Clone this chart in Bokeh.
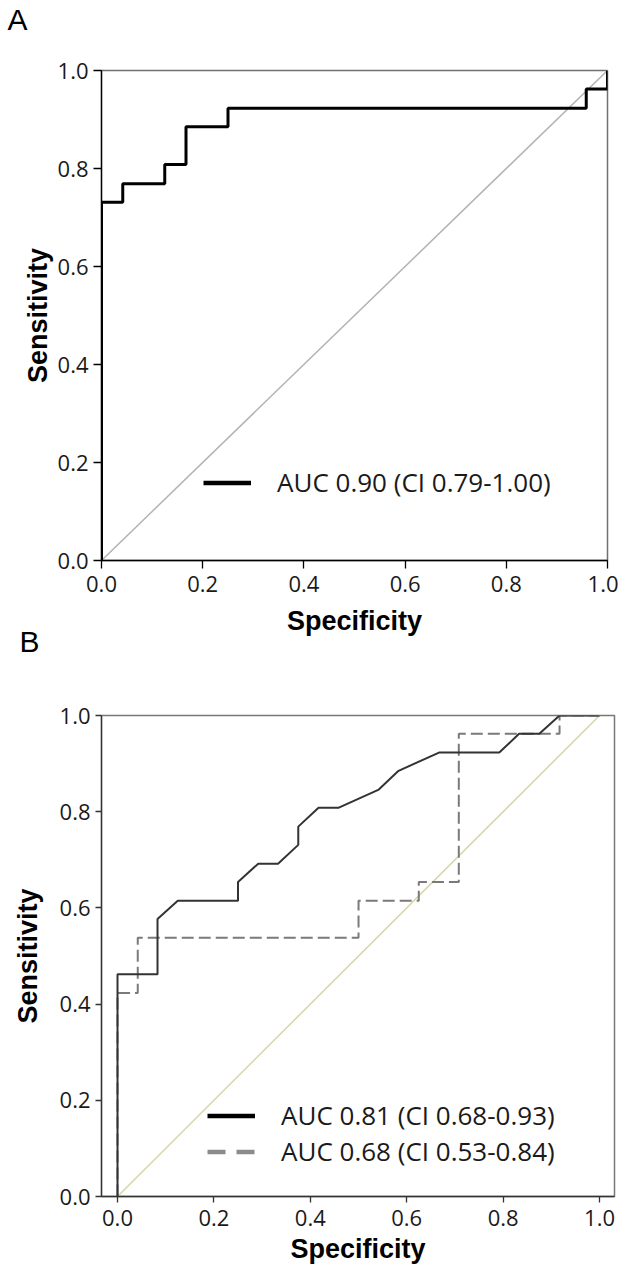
import math
from bokeh.plotting import figure
from bokeh.layouts import column
from bokeh.models import Range1d, FixedTicker, NumeralTickFormatter, Legend, LegendItem, Title
from bokeh.embed import file_html
from bokeh.resources import INLINE

# ---------------- data ----------------
ticks = [0.0, 0.2, 0.4, 0.6, 0.8, 1.0]
diag_x = [0.0, 1.0]
diag_y = [0.0, 1.0]

# Panel A ROC curve
a_spec = [0.0, 0.0, 0.042, 0.042, 0.125, 0.125, 0.167, 0.167, 0.25, 0.25, 0.958, 0.958, 1.0, 1.0]
a_sens = [0.0, 0.731, 0.731, 0.769, 0.769, 0.808, 0.808, 0.885, 0.885, 0.923, 0.923, 0.962, 0.962, 1.0]
a_label = "AUC 0.90 (CI 0.79-1.00)"

# Panel B ROC curves
b1_spec = [0.0, 0.0, 0.083, 0.083, 0.125, 0.25, 0.25, 0.292, 0.333, 0.375, 0.375, 0.417,
           0.458, 0.542, 0.583, 0.667, 0.792, 0.833, 0.875, 0.917, 1.0]
b1_sens = [0.0, 0.462, 0.462, 0.577, 0.615, 0.615, 0.654, 0.692, 0.692, 0.731, 0.769, 0.808,
           0.808, 0.846, 0.885, 0.923, 0.923, 0.962, 0.962, 1.0, 1.0]
b1_label = "AUC 0.81 (CI 0.68-0.93)"

b2_spec = [0.0, 0.0, 0.042, 0.042, 0.5, 0.5, 0.625, 0.625, 0.708, 0.708, 0.917, 0.917, 1.0]
b2_sens = [0.0, 0.423, 0.423, 0.538, 0.538, 0.615, 0.615, 0.654, 0.654, 0.962, 0.962, 1.0, 1.0]
b2_label = "AUC 0.68 (CI 0.53-0.84)"

NAN = [math.nan, math.nan]   # legend-only proxies (draw nothing in the frame)

TICK_FONT = "Open Sans"
LABEL_FONT = "Liberation Sans"


def style_axes(p, tick_out, xl_standoff, yl_standoff, axis_color):
    for ax in (p.xaxis[0], p.yaxis[0]):
        ax.ticker = FixedTicker(ticks=ticks)
        ax.formatter = NumeralTickFormatter(format="0.0")
        ax.major_tick_in = 0
        ax.major_tick_out = tick_out
        ax.minor_tick_line_color = None
        ax.axis_line_color = axis_color
        ax.axis_line_width = 1.3
        ax.major_tick_line_color = axis_color
        ax.major_tick_line_width = 1.3
        ax.major_label_text_font = TICK_FONT
        ax.major_label_text_font_size = "22px"
        ax.major_label_text_color = "#1a1a1a"
        ax.axis_label_text_font = LABEL_FONT
        ax.axis_label_text_font_style = "bold"
        ax.axis_label_text_font_size = "27px"
        ax.axis_label_text_color = "#000000"
    p.xaxis[0].major_label_standoff = 7
    p.yaxis[0].major_label_standoff = 5
    p.xaxis[0].axis_label = "Specificity"
    p.yaxis[0].axis_label = "Sensitivity"
    p.xaxis[0].axis_label_standoff = xl_standoff
    p.yaxis[0].axis_label_standoff = yl_standoff
    p.xgrid.visible = False
    p.ygrid.visible = False


def legend(items, loc):
    return Legend(items=items, location=loc, padding=0, margin=0, spacing=-2,
                  glyph_width=48, glyph_height=33, label_height=33, label_standoff=26,
                  border_line_color=None, background_fill_alpha=0,
                  label_text_font=TICK_FONT, label_text_font_size="26px",
                  label_text_color="#1a1a1a")


def panel_title(text, offset, standoff):
    return Title(text=text, align="left", offset=offset, standoff=standoff,
                 text_font=LABEL_FONT, text_font_size="30px", text_font_style="normal",
                 text_color="#000000")


# ---------------- Panel A ----------------
pA = figure(frame_width=506, frame_height=490, output_backend="svg", toolbar_location=None,
            x_range=Range1d(0, 1), y_range=Range1d(0, 1),
            min_border_left=101, min_border_right=11, min_border_top=110, min_border_bottom=80)
pA.margin = (-40, 0, 0, 0)
pA.outline_line_color = "#707070"
pA.outline_line_width = 1.5
style_axes(pA, 8, 11, 2, "#000000")
pA.add_layout(panel_title("A", -94, 69), "above")

pA.line(diag_x, diag_y, line_color="#b3b3b3", line_width=1.5)
pA.line(a_spec, a_sens, line_color="#000000", line_width=3)
legA_r = pA.line(x=NAN, y=NAN, line_color="#000000", line_width=4.5)
pA.add_layout(legend([LegendItem(label=a_label, renderers=[legA_r])], (102, 60)))

# ---------------- Panel B ----------------
pB = figure(frame_width=513, frame_height=481, output_backend="svg", toolbar_location=None,
            x_range=Range1d(-0.0332, 1.031), y_range=Range1d(0, 1),
            min_border_left=97, min_border_right=8, min_border_top=155, min_border_bottom=60)
pB.outline_line_color = "#777777"
pB.outline_line_width = 1.5
pB.border_fill_alpha = 0
pB.margin = (-80, 0, 0, 0)
style_axes(pB, 6, 5, 14, "#333333")
pB.add_layout(panel_title("B", -82, 116), "above")

pB.line(diag_x, diag_y, line_color="#d6d6a6", line_width=1.5)
pB.line(b2_spec, b2_sens, line_color="#7a7a7a", line_width=2, line_dash="12 5")
pB.line(b1_spec, b1_sens, line_color="#333333", line_width=2)
legB1 = pB.line(x=NAN, y=NAN, line_color="#000000", line_width=4.5)
legB2 = pB.line(x=NAN, y=NAN, line_color="#8c8c8c", line_width=4.5, line_dash="18 11")
pB.add_layout(legend([LegendItem(label=b1_label, renderers=[legB1]),
                      LegendItem(label=b2_label, renderers=[legB2])], (106, 27)))

layout = column(pA, pB, spacing=0)
open("out.html", "w").write(file_html(layout, INLINE))
